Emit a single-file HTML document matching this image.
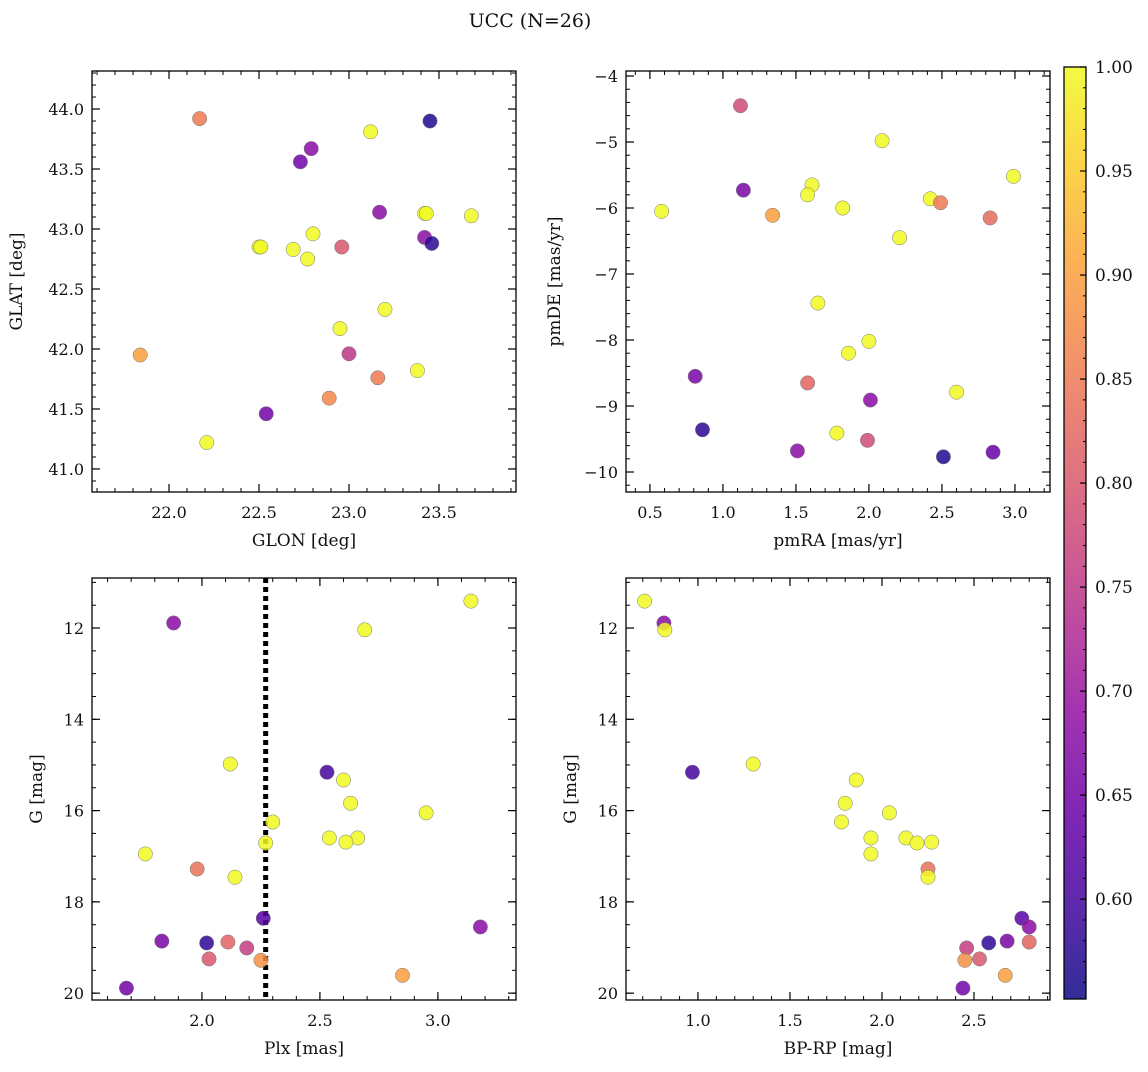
<!DOCTYPE html>
<html><head><meta charset="utf-8">
<style>
html,body{margin:0;padding:0;background:#fff;}
svg text{font-family:"DejaVu Serif","Liberation Serif",serif;fill:#111;}
</style></head>
<body>
<svg id="fig" width="1148" height="1067" viewBox="0 0 1148 1067" xmlns="http://www.w3.org/2000/svg">
<text x="530" y="27" font-size="19" text-anchor="middle">UCC (N=26)</text>
</svg>
<script>
// Panel 1: GLON vs GLAT
const glon1 = [22.17,23.45,22.79,22.73,23.12,23.17,23.42,23.43,23.68,22.50,22.51,22.69,22.80,22.77,22.96,23.42,23.46,23.20,22.95,23.00,21.84,23.38,23.16,22.89,22.54,22.21];
const glat1 = [43.92,43.90,43.67,43.56,43.81,43.14,43.13,43.13,43.11,42.85,42.85,42.83,42.96,42.75,42.85,42.93,42.88,42.33,42.17,41.96,41.95,41.82,41.76,41.59,41.46,41.22];
const prob1 = [0.85,0.57,0.68,0.65,1.0,0.68,1.0,1.0,1.0,1.0,1.0,1.0,1.0,1.0,0.80,0.68,0.58,1.0,1.0,0.75,0.90,1.0,0.85,0.87,0.65,1.0];
// Panel 2: pmRA vs pmDE
const pmra2 = [1.12,2.09,2.99,1.14,1.61,1.58,0.58,1.34,1.82,2.42,2.49,2.83,2.21,1.65,2.00,1.86,2.60,0.81,1.58,2.01,0.86,1.78,1.99,1.51,2.51,2.85];
const pmde2 = [-4.45,-4.98,-5.52,-5.73,-5.65,-5.80,-6.05,-6.11,-6.00,-5.86,-5.92,-6.15,-6.45,-7.44,-8.02,-8.20,-8.79,-8.55,-8.65,-8.91,-9.36,-9.41,-9.52,-9.68,-9.77,-9.70];
const prob2 = [0.78,1.0,1.0,0.66,1.0,1.0,1.0,0.90,1.0,1.0,0.85,0.83,1.0,1.0,1.0,1.0,1.0,0.66,0.82,0.68,0.58,1.0,0.78,0.68,0.57,0.64];
// Panel 3: Plx vs G
const plx3 = [3.14,1.88,2.69,2.12,2.53,2.60,2.63,2.95,2.30,2.66,2.54,2.27,2.61,1.76,1.98,2.14,2.26,3.18,1.83,2.02,2.11,2.19,2.03,2.25,2.85,1.68];
const gmag3 = [11.41,11.89,12.04,14.98,15.16,15.33,15.84,16.05,16.25,16.60,16.60,16.71,16.69,16.95,17.28,17.46,18.36,18.55,18.86,18.90,18.88,19.01,19.25,19.28,19.61,19.89];
const prob3 = [1.0,0.68,1.0,1.0,0.60,1.0,1.0,1.0,1.0,1.0,1.0,1.0,1.0,1.0,0.84,1.0,0.62,0.68,0.66,0.58,0.82,0.76,0.80,0.88,0.90,0.65];
const plxLine = [2.27];
// Panel 4: BP-RP vs G
const bprp4 = [0.71,0.815,0.82,1.30,0.97,1.86,1.80,2.04,1.78,2.13,1.94,2.19,2.27,1.94,2.25,2.25,2.76,2.80,2.68,2.58,2.80,2.46,2.53,2.45,2.67,2.44];
const gmag4 = gmag3;
const prob4 = prob3;
// Tick labels
const ticks1x = [22.0,22.5,23.0,23.5], ticks1y = [41.0,41.5,42.0,42.5,43.0,43.5,44.0];
const ticks2x = [0.5,1.0,1.5,2.0,2.5,3.0], ticks2y = [-10,-9,-8,-7,-6,-5,-4];
const ticks3x = [2.0,2.5,3.0], ticksGy = [12,14,16,18,20];
const ticks4x = [1.0,1.5,2.0,2.5];
const ticksCb = [0.60,0.65,0.70,0.75,0.80,0.85,0.90,0.95,1.00];

const NS="http://www.w3.org/2000/svg";
const svg=document.getElementById('fig');
function mk(tag,attrs,parent){const e=document.createElementNS(NS,tag);for(const k in attrs)e.setAttribute(k,attrs[k]);(parent||svg).appendChild(e);return e;}
const stops=['#0d0887','#41049d','#6a00a8','#8f0da4','#b12a90','#cc4778','#e16462','#f2844b','#fca636','#fcce25','#f0f921'];
function hx(h){return [1,3,5].map(i=>parseInt(h.substr(i,2),16));}
function plasma(t){t=Math.max(0,Math.min(1,t));const f=t*10,i=Math.min(9,Math.floor(f)),r=f-i;const a=hx(stops[i]),b=hx(stops[i+1]);return 'rgb('+a.map((v,k)=>Math.round(v+(b[k]-v)*r)).join(',')+')';}
const CMIN=0.552,CMAX=1.0;
function col(p){return plasma((p-CMIN)/(CMAX-CMIN));}

function panel(cfg){
  const {x0,x1,y0,y1,xmin,xmax,ymin,ymax,inv,name}=cfg;
  const g=mk('g',{});
  
  
  const sx=v=>x0+(v-xmin)/(xmax-xmin)*(x1-x0);
  const sy=inv?(v=>y0+(v-ymin)/(ymax-ymin)*(y1-y0)):(v=>y1-(v-ymin)/(ymax-ymin)*(y1-y0));
  for(let v=Math.ceil(xmin/cfg.xminor)*cfg.xminor;v<=xmax;v+=cfg.xminor){const X=sx(v);mk('line',{x1:X,x2:X,y1:y1,y2:y1-4,stroke:'#000','stroke-width':1},g);mk('line',{x1:X,x2:X,y1:y0,y2:y0+4,stroke:'#000','stroke-width':1},g);}
  for(let v=Math.ceil(ymin/cfg.yminor)*cfg.yminor;v<=ymax;v+=cfg.yminor){const Y=sy(v);mk('line',{x1:x0,x2:x0+4,y1:Y,y2:Y,stroke:'#000','stroke-width':1},g);mk('line',{x1:x1,x2:x1-4,y1:Y,y2:Y,stroke:'#000','stroke-width':1},g);}
  cfg.xt.forEach(v=>{const X=sx(v);mk('line',{x1:X,x2:X,y1:y1,y2:y1-8,stroke:'#000','stroke-width':1.2},g);mk('line',{x1:X,x2:X,y1:y0,y2:y0+8,stroke:'#000','stroke-width':1.2},g);
    const t=mk('text',{x:X,y:y1+26,'font-size':16,'text-anchor':'middle'},g);t.textContent=v.toFixed(1);
    
    });
  cfg.yt.forEach(v=>{const Y=sy(v);mk('line',{x1:x0,x2:x0+8,y1:Y,y2:Y,stroke:'#000','stroke-width':1.2},g);mk('line',{x1:x1,x2:x1-8,y1:Y,y2:Y,stroke:'#000','stroke-width':1.2},g);
    const t=mk('text',{x:x0-8,y:Y+6,'font-size':16,'text-anchor':'end'},g);t.textContent=cfg.yfmt(v);
    
    });
  if(cfg.vline){cfg.vline.forEach(v=>{const l=mk('line',{x1:sx(v),x2:sx(v),y1:y0,y2:y1,stroke:'#000','stroke-width':5,'stroke-dasharray':'5,4'},g);
    
    });}
  cfg.xs.forEach((v,i)=>{const c=mk('circle',{cx:sx(v),cy:sy(cfg.ys[i]),r:7.2,fill:col(cfg.ps[i]),'fill-opacity':0.85,stroke:'#777','stroke-width':0.5},g);
    
    });
  mk('rect',{x:x0,y:y0,width:x1-x0,height:y1-y0,fill:'none',stroke:'#000','stroke-width':1.3},g);
  const xl=mk('text',{x:(x0+x1)/2,y:y1+54,'font-size':17,'text-anchor':'middle'},g);xl.textContent=cfg.xlab;
  
  
  const yl=mk('text',{x:0,y:0,'font-size':17,'text-anchor':'middle',transform:`translate(${cfg.ylx},${(y0+y1)/2}) rotate(-90)`},g);yl.textContent=cfg.ylab;
  
  
}
const f1=v=>v.toFixed(1), f0=v=>String(v).replace('-','\u2212');
panel({name:'glon-glat-panel',x0:92,x1:516,y0:71,y1:492,xmin:21.572,xmax:23.928,ymin:40.808,ymax:44.317,xminor:0.1,yminor:0.1,xt:ticks1x,yt:ticks1y,yfmt:f1,xs:glon1,ys:glat1,ps:prob1,xlab:'GLON [deg]',ylab:'GLAT [deg]',ylx:22});
panel({name:'pm-panel',x0:626,x1:1050,y0:71,y1:492,xmin:0.336,xmax:3.240,ymin:-10.303,ymax:-3.924,xminor:0.1,yminor:0.2,xt:ticks2x,yt:ticks2y,yfmt:f0,xs:pmra2,ys:pmde2,ps:prob2,xlab:'pmRA [mas/yr]',ylab:'pmDE [mas/yr]',ylx:560});
panel({name:'plx-g-panel',x0:92,x1:516,y0:578,y1:1000,xmin:1.534,xmax:3.331,ymin:10.904,ymax:20.15,inv:true,xminor:0.1,yminor:0.5,xt:ticks3x,yt:ticksGy,yfmt:f0,xs:plx3,ys:gmag3,ps:prob3,xlab:'Plx [mas]',ylab:'G [mag]',ylx:42,vline:plxLine});
panel({name:'cmd-panel',x0:626,x1:1050,y0:578,y1:1000,xmin:0.609,xmax:2.913,ymin:10.904,ymax:20.15,inv:true,xminor:0.1,yminor:0.5,xt:ticks4x,yt:ticksGy,yfmt:f0,xs:bprp4,ys:gmag4,ps:prob4,xlab:'BP-RP [mag]',ylab:'G [mag]',ylx:576});

const cb=mk('g',{});


const cy0=67,cy1=999,cx0=1064,cx1=1086;
const cyv=v=>cy1-(v-CMIN)/(CMAX-CMIN)*(cy1-cy0);
const gr=mk('linearGradient',{id:'cbg',x1:0,y1:1,x2:0,y2:0},mk('defs',{}));
for(let i=0;i<=20;i++){mk('stop',{offset:i/20,'stop-color':plasma(i/20),'stop-opacity':0.85},gr);}
mk('rect',{x:cx0,y:cy0,width:cx1-cx0,height:cy1-cy0,fill:'url(#cbg)',stroke:'#000','stroke-width':1.3},cb);
for(let v=0.56;v<=1.0001;v+=0.01){const Y=cyv(v);mk('line',{x1:cx1,x2:cx1-3,y1:Y,y2:Y,stroke:'#000','stroke-width':1},cb);}
ticksCb.forEach(v=>{const Y=cyv(v);mk('line',{x1:cx1,x2:cx1-6,y1:Y,y2:Y,stroke:'#000','stroke-width':1.2},cb);
  const t=mk('text',{x:1095,y:Y+6,'font-size':17},cb);t.textContent=v.toFixed(2);
  
  });
</script>
</body></html>
